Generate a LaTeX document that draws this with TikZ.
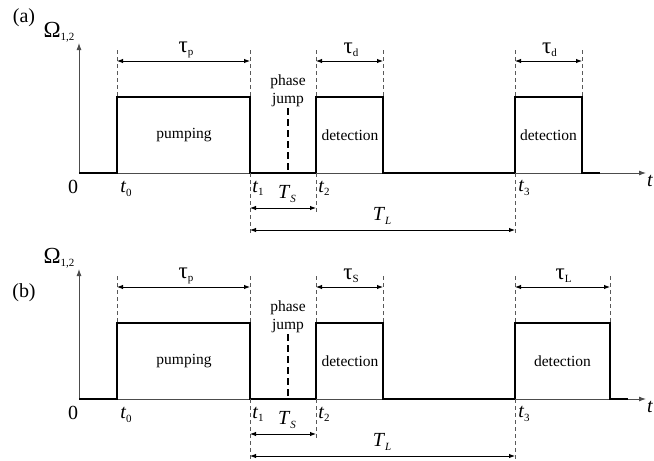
\documentclass[tikz,border=0pt]{standalone}
\usepackage{fontspec}
\setmainfont{Liberation Serif}
\usetikzlibrary{arrows.meta}
\newcommand{\sbx}[1]{\raisebox{-0.35ex}{\fontsize{11}{11}\selectfont #1}}
\newcommand{\bigfs}{\fontsize{20}{22}\selectfont}
\newcommand{\midfs}{\fontsize{15.5}{17}\selectfont}
\newcommand{\grk}[1]{{\fontsize{23}{24}\selectfont #1}}
\tikzset{
  axis/.style={line width=0.9pt, draw=black!70, -{Latex[length=7pt,width=5pt]}},
  sig/.style={line width=1.5pt, black, line join=miter},
  guide/.style={line width=0.7pt, draw=black!65, dash pattern=on 4pt off 3pt},
  jump/.style={line width=1.6pt, black, dash pattern=on 7pt off 4pt},
  dim/.style={line width=0.9pt, black, {Latex[length=6pt,width=4.5pt]}-{Latex[length=6pt,width=4.5pt]}},
  lab/.style={inner sep=0pt, font=\bigfs},
  txt/.style={inner sep=0pt, font=\midfs},
}
\newcommand{\panel}[7]{%
% #1 yshift, #2 end of 2nd det, #3 signal end, #4 tau1, #5 tau2, #6 tag, #7 tag y
\begin{scope}[shift={(0,#1)}]
  \coordinate (O) at (79,173);
  \coordinate (Ytop) at (79,43);
  \coordinate (Xend) at (646,173);
  \draw[axis] (O) -- (Ytop);
  \draw[axis] (O) -- (Xend);
  \draw[sig] (79,173) -- (117,173) -- (117,97) -- (250,97) -- (250,173) -- (316,173) -- (316,97) -- (383,97) -- (383,173) -- (515,173) -- (515,97) -- (#2,97) -- (#2,173) -- (#3,173);
  % guides
  \foreach \x in {117,250,316,383,515,#2} \draw[guide] (\x,50) -- (\x,97);
  \draw[guide] (250,173) -- (250,235);
  \draw[guide] (316,173) -- (316,213);
  \draw[guide] (515,173) -- (515,235);
  % dims
  \coordinate (p1) at (117,61); \coordinate (p2) at (250,61);
  \coordinate (d1) at (316,61); \coordinate (d2) at (383,61);
  \coordinate (e1) at (515,61); \coordinate (e2) at (#2,61);
  \coordinate (s1) at (250,208); \coordinate (s2) at (316,208);
  \coordinate (l1) at (250,230); \coordinate (l2) at (515,230);
  \draw[dim] (p1) -- (p2);
  \draw[dim] (d1) -- (d2);
  \draw[dim] (e1) -- (e2);
  \draw[dim] (s1) -- (s2);
  \draw[dim] (l1) -- (l2);
  \coordinate (j1) at (288,108); \coordinate (j2) at (288,173);
  \draw[jump] (j1) -- (j2);
  % labels
  \node[lab] (tag) at (24,#7) {#6};
  \node[lab] (Om) at (59,32) {\grk{Ω}\sbx{1,2}};
  \node[lab] (zero) at (73,187) {0};
  \node[lab] (tax) at (650,181) {\textit{t}};
  \node[lab] (t0) at (126,189) {\textit{t}\sbx{0}};
  \node[lab] (t1) at (258,188) {\textit{t}\sbx{1}};
  \node[lab] (t2) at (324,188) {\textit{t}\sbx{2}};
  \node[lab] (t3) at (524,188) {\textit{t}\sbx{3}};
  \node[lab] (TS) at (287,194) {\textit{T}\sbx{\textit{S}}};
  \node[lab] (TL) at (382,216) {\textit{T}\sbx{\textit{L}}};
  \node[lab] (taup) at (186,50) {\grk{τ}\sbx{p}};
  \node[lab] (tau1) at (351,50) {#4};
  \node[lab] (tau2) at ({(515+#2)/2+1},50) {#5};
  \node[txt] (pump) at (184,135) {pumping};
  \node[txt] (ph) at (288,82) {phase};
  \node[txt] (ju) at (288,100) {jump};
  \node[txt] (det1) at (350,135) {detection};
  \node[txt] (det2) at ({(515+#2)/2},135) {detection};
\end{scope}}
\begin{document}
\begin{tikzpicture}[x=1pt,y=-1pt]
\useasboundingbox (0,0) rectangle (654,461);
\panel{0}{582}{600}{\grk{τ}\sbx{d}}{\grk{τ}\sbx{d}}{(a)}{18}
\panel{226}{610}{628}{\grk{τ}\sbx{S}}{\grk{τ}\sbx{L}}{(b)}{67}
\end{tikzpicture}
\end{document}
